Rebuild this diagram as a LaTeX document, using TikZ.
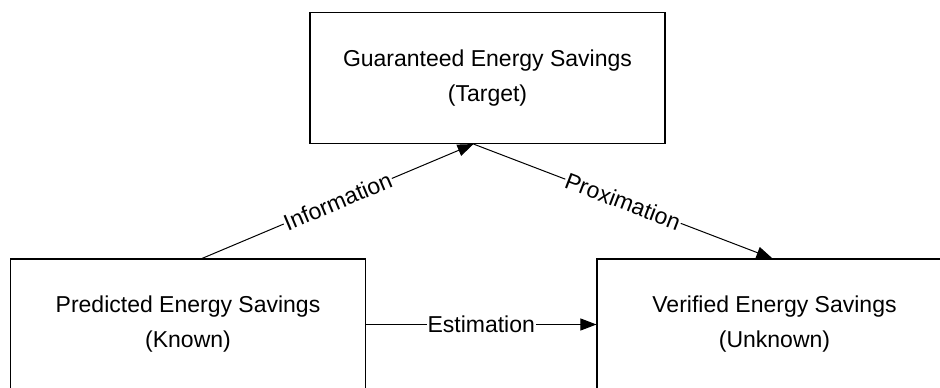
\documentclass[tikz,border=0pt]{standalone}
\usepackage{fontspec}
\setmainfont{Liberation Sans}
\usetikzlibrary{arrows.meta}

\begin{document}
\begin{tikzpicture}[x=1pt, y=-1pt,
	box/.style={draw, line width=1.1pt, align=center, minimum width=355pt, minimum height=131pt, font=\fontsize{23}{35}\selectfont},
	lbl/.style={midway, fill=white, inner sep=1pt, font=\fontsize{23}{28}\selectfont},
	flow/.style={line width=1pt, -{Triangle[length=16pt, width=12pt]}}] % , every node/.style = {}

	\clip (0,0) rectangle (940,388);

	\node [box] (guar) at (487.5,78) {Guaranteed Energy Savings\\(Target)};
	\node [box] (pred) at (188,324.5) {Predicted Energy Savings\\(Known)};
	\node [box] (ver) at (774.5,324.5) {Verified Energy Savings\\(Unknown)};

	\draw [flow] ([xshift=14pt]pred.north) -- node [lbl, sloped] {Information} ([xshift=-14pt]guar.south);
	\draw [flow] ([xshift=-14pt]guar.south) -- node [lbl, sloped] {Proximation} ([xshift=-2pt]ver.north);

	\draw [flow] (pred.east) -- node [lbl] {Estimation} (ver.west);

\end{tikzpicture}
\end{document}
